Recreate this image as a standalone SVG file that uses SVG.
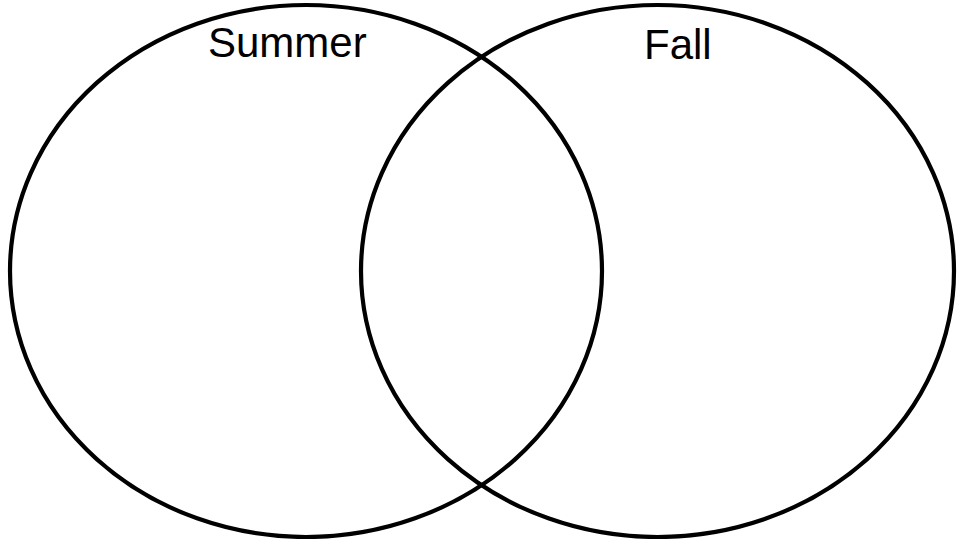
<svg xmlns="http://www.w3.org/2000/svg" width="958" height="539" viewBox="0 0 958 539">
<style>
.c{fill:none;stroke:#000;stroke-width:4.2}
.t{font-family:"Liberation Sans",Arial,sans-serif;font-size:42px;fill:#000}
</style>
<rect width="958" height="539" fill="#fff"/>
<g id="summer">
<ellipse class="c" cx="306" cy="271" rx="296" ry="266"/>
<text class="t" x="208" y="57">Summer</text>
</g>
<g id="fall">
<ellipse class="c" cx="657.5" cy="271" rx="296.5" ry="266"/>
<text class="t" x="644" y="59">Fall</text>
</g>
</svg>
